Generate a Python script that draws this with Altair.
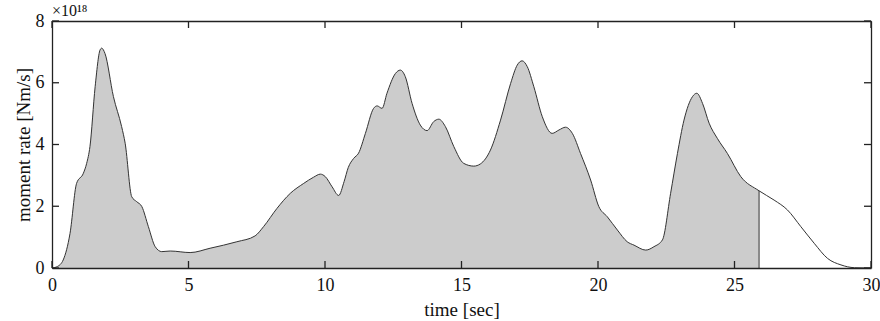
import altair as alt
import pandas as pd

# time [sec] and moment rate [x1e18 Nm/s]
time = [0, 0.2, 0.41, 0.66, 0.9, 1.15, 1.27, 1.39, 1.58, 1.76, 1.82, 1.94, 2.25, 2.55,
        2.68, 2.92, 3.1, 3.29, 3.53, 3.78, 4.02, 4.33, 5.06, 5.79, 6.77, 7.44, 7.75,
        8.24, 8.73, 9.22, 9.58, 9.83, 10.01, 10.26, 10.5, 10.7, 10.85, 11.05, 11.23,
        11.48, 11.78, 11.91, 12.09, 12.27, 12.58, 12.76, 12.94, 13.19, 13.49, 13.74,
        13.98, 14.17, 14.41, 14.72, 15.08, 15.45, 15.69, 16.06, 16.43, 16.8, 17.04,
        17.22, 17.41, 17.65, 17.96, 18.32, 18.57, 18.81, 19.06, 19.36, 19.73, 20.03,
        20.34, 20.71, 21.07, 21.32, 21.75, 22.05, 22.36, 22.66, 22.91, 23.15, 23.46,
        23.62, 23.83, 24.07, 24.37, 24.74, 25.23, 25.9, 26.45, 26.94, 27.43, 27.92,
        28.41, 28.9, 29.39, 30]
rate = [0, 0.05, 0.26, 1.12, 2.74, 3.07, 3.39, 3.93, 5.87, 7.06, 7.12, 6.95, 5.55, 4.58,
        4.04, 2.31, 2.15, 1.99, 1.34, 0.69, 0.53, 0.55, 0.50, 0.64, 0.85, 1.04, 1.34,
        1.93, 2.42, 2.74, 2.94, 3.04, 2.96, 2.63, 2.35, 2.8, 3.25, 3.55, 3.72,
        4.36, 5.17, 5.25, 5.17, 5.66, 6.30, 6.41, 6.20, 5.33, 4.63, 4.45,
        4.74, 4.82, 4.58, 3.93, 3.39, 3.30, 3.37, 3.82, 4.79, 5.98, 6.57,
        6.71, 6.52, 5.87, 4.90, 4.36, 4.47, 4.56, 4.36, 3.71, 2.85, 1.99,
        1.66, 1.23, 0.85, 0.74, 0.58, 0.69, 0.91, 2.42, 3.71, 4.79, 5.55,
        5.66, 5.33, 4.69, 4.20, 3.71, 2.96, 2.50, 2.20, 1.88, 1.34, 0.80,
        0.31, 0.10, 0.01, 0]
cutoff = 25.9
x_ticks = [0, 5, 10, 15, 20, 25, 30]
y_ticks = [0, 2, 4, 6, 8]

df = pd.DataFrame({"t": time, "m": rate})
df_fill = df[df.t <= cutoff]
df_cut = df[df.t == cutoff]
df_xt = pd.DataFrame({"v": x_ticks})
df_yt = pd.DataFrame({"v": y_ticks})

W, H = 819, 247
TL = 7  # tick length (px)
FONT = "Liberation Serif"
INK = "#222222"

xs = alt.Scale(domain=[0, 30], nice=False, zero=False)
ys = alt.Scale(domain=[0, 8], nice=False)

common = dict(grid=False, domainColor=INK, domainWidth=1.3, ticks=False, zindex=1,
              labelFont=FONT, titleFont=FONT, labelColor="#111111",
              titleColor="#111111", labelFontSize=18, titleFontSize=19,
              titleFontWeight="normal", labelFlush=False)
mirror = dict(grid=False, labels=False, ticks=False, title=None, domain=True,
              domainColor=INK, domainWidth=1.3, zindex=1)

area = alt.Chart(df_fill).mark_area(color="#cccccc", interpolate="monotone").encode(
    x=alt.X("t:Q", scale=xs, axis=alt.Axis(orient="bottom", values=x_ticks,
            title="time [sec]", labelPadding=8, titlePadding=6, **common)),
    y=alt.Y("m:Q", scale=ys, axis=alt.Axis(orient="left", values=y_ticks,
            title="moment rate [Nm/s]", labelPadding=8, titlePadding=2, **common)),
)

line = alt.Chart(df).mark_line(color="#333333", strokeWidth=1, interpolate="monotone").encode(
    x=alt.X("t:Q", scale=xs, axis=alt.Axis(orient="top", values=x_ticks, **mirror)),
    y=alt.Y("m:Q", scale=ys, axis=alt.Axis(orient="right", values=y_ticks, **mirror)),
)

cut = alt.Chart(df_cut).mark_rule(color="#333333", strokeWidth=1).transform_calculate(
    base="0"
).encode(
    x=alt.X("t:Q", scale=xs, axis=None),
    y=alt.Y("base:Q", scale=ys, axis=None),
    y2="m:Q",
)

tick_style = dict(color=INK, strokeWidth=1.3)
ticks_bottom = alt.Chart(df_xt).mark_rule(**tick_style).encode(
    x=alt.X("v:Q", scale=xs, axis=None), y=alt.value(H), y2=alt.value(H - TL))
ticks_top = alt.Chart(df_xt).mark_rule(**tick_style).encode(
    x=alt.X("v:Q", scale=xs, axis=None), y=alt.value(0), y2=alt.value(TL))
ticks_left = alt.Chart(df_yt).mark_rule(**tick_style).encode(
    y=alt.Y("v:Q", scale=ys, axis=None), x=alt.value(0), x2=alt.value(TL))
ticks_right = alt.Chart(df_yt).mark_rule(**tick_style).encode(
    y=alt.Y("v:Q", scale=ys, axis=None), x=alt.value(W), x2=alt.value(W - TL))

chart = alt.layer(area, line, cut, ticks_bottom, ticks_top, ticks_left, ticks_right).resolve_axis(
    x="independent", y="independent"
).properties(
    width=W, height=H,
    title=alt.TitleParams("×10¹⁸", anchor="start", frame="group", font=FONT,
                          fontSize=16, fontWeight="normal", color="#111111",
                          offset=0, dy=7),
    autosize=alt.AutoSizeParams(type="none"),
    padding={"left": 52, "top": 21, "right": 9, "bottom": 53},
).configure_view(stroke=None)

chart.save("out.html", embed_options={"renderer": "svg", "actions": False})
